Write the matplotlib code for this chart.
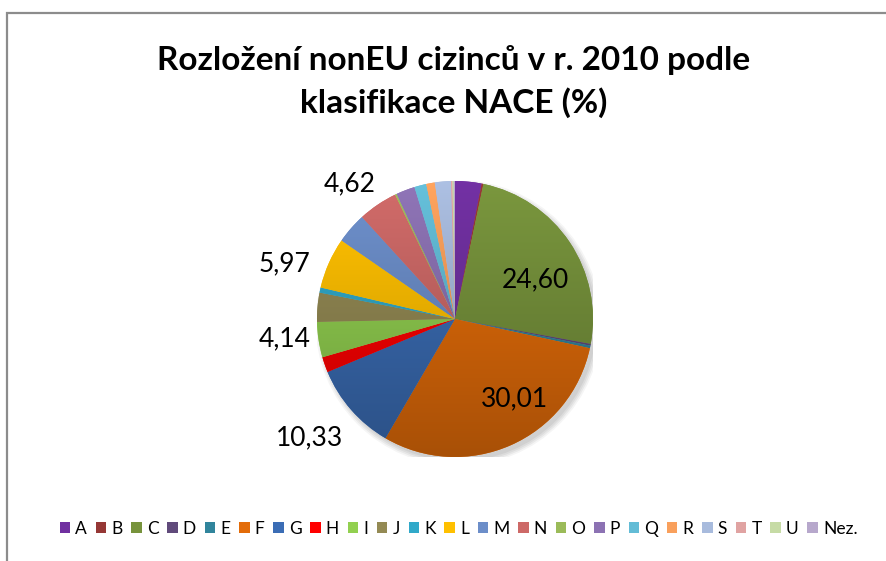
import numpy as np
import matplotlib
matplotlib.use("Agg")
import matplotlib.pyplot as plt
from matplotlib.patches import Patch, Rectangle, Circle
from matplotlib.colors import to_rgb

plt.rcParams['font.family'] = ['Lato', 'DejaVu Sans']

# NACE sections and shares (%)
categories = ['A', 'B', 'C', 'D', 'E', 'F', 'G', 'H', 'I', 'J', 'K',
              'L', 'M', 'N', 'O', 'P', 'Q', 'R', 'S', 'T', 'U', 'Nez.']
shares = [3.10, 0.20, 24.60, 0.20, 0.30, 30.01, 10.33, 1.80, 4.14, 3.40, 0.60,
          5.97, 3.60, 4.62, 0.20, 2.20, 1.40, 1.00, 1.90, 0.15, 0.15, 0.15]
# only these values carry a data label in the original
labelled = ['C', 'F', 'G', 'I', 'L', 'N']

colors = ['#7030A0', '#953735', '#77933C', '#604A7B', '#31859C', '#E36C09',
          '#3B6DB5', '#FF0000', '#92D050', '#948A54', '#31A9C9', '#FFC000',
          '#6C8EC9', '#CD6967', '#9BBB59', '#8C72B3', '#63BCD6', '#F9A05C',
          '#A8BBDD', '#E0A3A2', '#C6DBA5', '#B7A8CC']

# label placement: (radius factor, angle nudge in degrees)
label_pos = {'C': (0.65, -8), 'F': (0.72, 13), 'G': (1.36, -2),
             'I': (1.24, -2), 'L': (1.30, 6), 'N': (1.24, 4)}

W, H = 887, 561
fig = plt.figure(figsize=(W / 100, H / 100), dpi=100)

# chart frame (runs off the right and bottom edge like the original)
fig.patches.append(Rectangle((7 / W, -0.05), 1.0, 1 - 13 / H + 0.05,
                             transform=fig.transFigure, fill=False,
                             edgecolor='#8C8C8C', linewidth=1.6))

fig.text(0.511, 1 - 60 / H, 'Rozložení nonEU cizinců v r. 2010 podle',
         ha='center', va='center', fontsize=24, fontweight='bold')
fig.text(0.511, 1 - 103 / H, 'klasifikace NACE (%)',
         ha='center', va='center', fontsize=24, fontweight='bold')

cx, cy, r = 455, 319, 138
ax = fig.add_axes([(cx - r) / W, (H - cy - r) / H, 2 * r / W, 2 * r / H])
ax.set_xlim(-1, 1)
ax.set_ylim(-1, 1)
ax.axis('off')

# soft shadow towards bottom right
for i, a in enumerate([0.05, 0.05, 0.05, 0.04]):
    ax.add_patch(Circle((0.025, -0.03), 1.0 + 0.012 * i, color='black',
                        alpha=a, lw=0, zorder=0))

wedges, _ = ax.pie(shares, colors=colors, startangle=90, counterclock=False,
                   radius=1.0, wedgeprops=dict(linewidth=0))

# vertical gradient on each slice: lighter on top, darker on bottom
grad = np.linspace(1.0, 0.72, 256)[:, None]
for w, c in zip(wedges, colors):
    rgb = np.array(to_rgb(c))
    img = np.clip(grad[..., None] * rgb[None, None, :] * 1.03, 0, 1)
    im = ax.imshow(img, extent=(-1, 1, -1, 1), origin='upper',
                   aspect='auto', zorder=2, interpolation='bilinear')
    im.set_clip_path(w)
ax.set_xlim(-1, 1)
ax.set_ylim(-1, 1)

for w, cat, val in zip(wedges, categories, shares):
    if cat not in labelled:
        continue
    rf, nudge = label_pos[cat]
    ang = np.deg2rad((w.theta1 + w.theta2) / 2 + nudge)
    ax.text(rf * np.cos(ang), rf * np.sin(ang), f'{val:.2f}'.replace('.', ','),
            ha='center', va='center', fontsize=19, zorder=5)

handles = [Patch(facecolor=c, edgecolor='none', label=l)
           for c, l in zip(colors, categories)]
fig.legend(handles=handles, loc='center', bbox_to_anchor=(0.517, 1 - 529 / H),
           ncol=len(categories), frameon=False, fontsize=12.5,
           handlelength=0.6, handleheight=0.6, handletextpad=0.3,
           columnspacing=0.5, borderpad=0)

fig.savefig('out.png', dpi=100)
